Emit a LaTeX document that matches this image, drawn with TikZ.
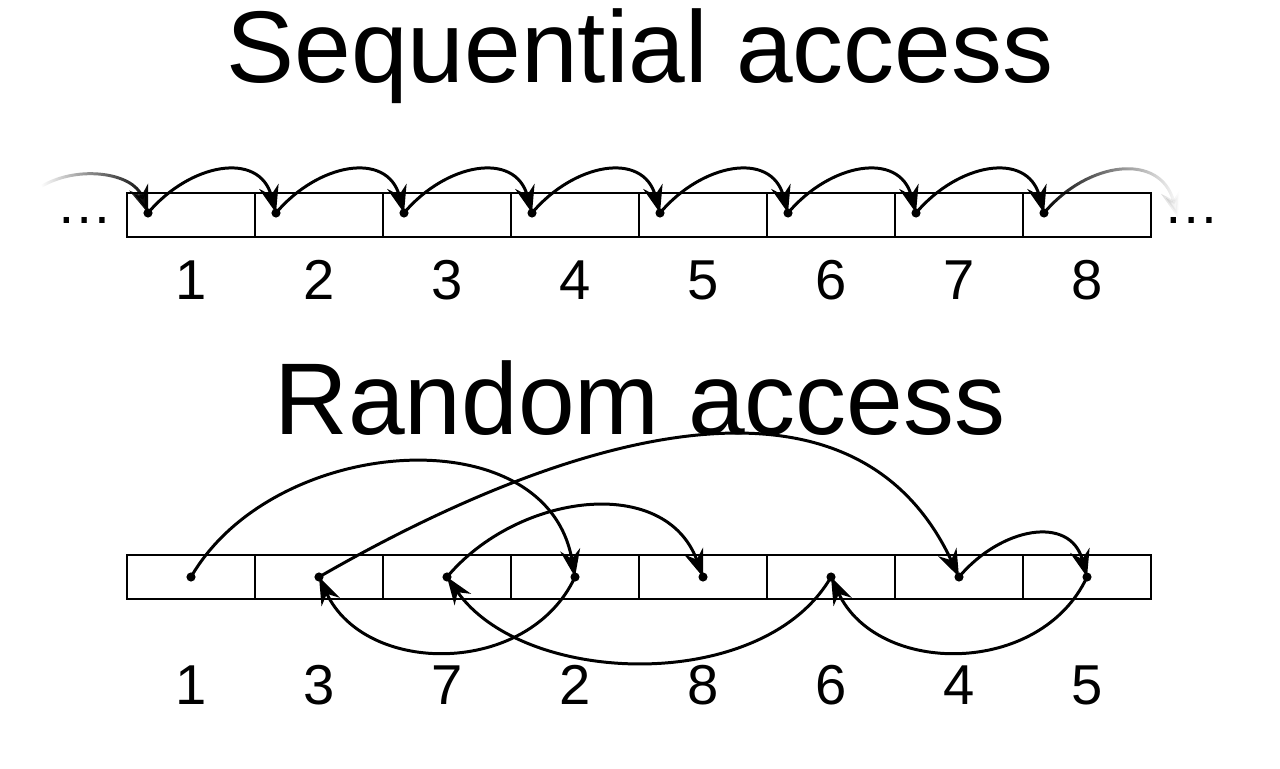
\documentclass[tikz,border=0pt]{standalone}
\usepackage{fontspec}
\setmainfont{Liberation Sans}
\usetikzlibrary{positioning,arrows.meta,fadings}

\begin{document}
\begin{tikzpicture}[x=0.02cm,y=0.02cm,
	cell/.style={draw, line width=0.8pt, minimum width=2.56cm, minimum height=0.88cm, inner sep=0, outer sep=0},
	jump/.style={line width=1.7pt, -{Stealth[length=5.5mm,width=4mm]}},
	title/.style={font=\fontsize{58}{64}\selectfont},
	num/.style={font=\fontsize{32}{36}\selectfont}]
	\useasboundingbox (0,0) rectangle (1280,768);
	\node[title] (seqt) at (640,712) {Sequential access};
	\node[title] (rndt) at (640,370) {Random access};
	% sequential row
	\foreach \i in {1,...,8} {
		\node[cell] (s\i) at (191+128*\i-128,553) {};
		\coordinate (sd\i) at (148+128*\i-128,555);
		\fill (sd\i) circle (2.6pt);
		\node[num] (sn\i) at (191+128*\i-128,488) {\i};
	};
	\node[num] (sl) at (85,548) {\dots};
	\node[num] (sr) at (1192,548) {\dots};
	\coordinate (sin) at (42,582);
	\coordinate (sout) at (1178,550);
	\draw[jump, path fading=west] (sin) to[out=30,in=110] (sd1);
	\foreach \i/\j in {1/2,2/3,3/4,4/5,5/6,6/7,7/8}
		\draw[jump] (sd\i) to[out=50,in=105,looseness=1.3] (sd\j);
	\draw[jump, path fading=east] (sd8) to[out=50,in=105,looseness=1.3] (sout);
	% random row
	\foreach \i/\n in {1/1,2/3,3/7,4/2,5/8,6/6,7/4,8/5} {
		\node[cell] (r\i) at (191+128*\i-128,191) {};
		\coordinate (rd\i) at (191+128*\i-128,191);
		\fill (rd\i) circle (2.6pt);
		\node[num] (rn\i) at (191+128*\i-128,83) {\n};
	};
	\draw[jump] (rd1) to[out=60,in=100,looseness=1.1] (rd4);
	\draw[jump] (rd4) to[out=-115,in=-65,looseness=1.1] (rd2);
	\draw[jump] (rd2) to[out=30,in=115,looseness=1.05] (rd7);
	\draw[jump] (rd7) to[out=50,in=105,looseness=1.3] (rd8);
	\draw[jump] (rd8) to[out=-115,in=-65,looseness=1.1] (rd6);
	\draw[jump] (rd6) to[out=-120,in=-55,looseness=0.9] (rd3);
	\draw[jump] (rd3) to[out=50,in=110,looseness=1.1] (rd5);
\end{tikzpicture}
\end{document}
